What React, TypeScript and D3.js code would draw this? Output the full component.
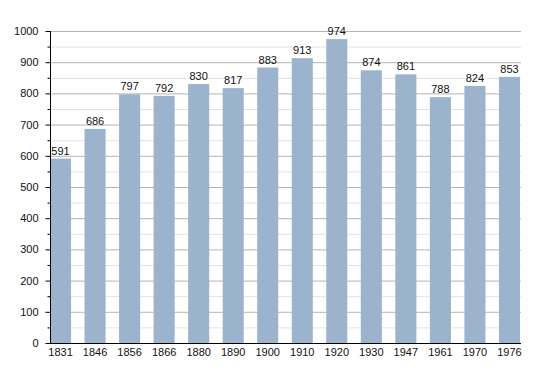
import { useEffect, useRef } from "react";
import * as d3 from "d3";

const years = ["1831", "1846", "1856", "1866", "1880", "1890", "1900", "1910", "1920", "1930", "1947", "1961", "1970", "1976"];
const population = [591, 686, 797, 792, 830, 817, 883, 913, 974, 874, 861, 788, 824, 853];
const majorTicks = [0, 100, 200, 300, 400, 500, 600, 700, 800, 900, 1000];
const minorTicks = [50, 150, 250, 350, 450, 550, 650, 750, 850, 950];

export default function App() {
    const svgRef = useRef<SVGSVGElement | null>(null);

    useEffect(() => {
        const width = 550;
        const height = 373;
        const left = 50;
        const right = 521;
        const top = 31;
        const bottom = 343;

        const svg = d3.select(svgRef.current)
            .attr("width", width)
            .attr("height", height);
        svg.selectAll("*").remove();

        const x = d3.scaleBand<string>()
            .domain(years)
            .range([left, 520])
            .paddingInner(0.39)
            .paddingOuter(0);

        const y = d3.scaleLinear()
            .domain([0, 1000])
            .range([bottom, top]);

        // minor grid lines
        svg.append("g")
            .selectAll("line")
            .data(minorTicks)
            .join("line")
            .attr("x1", left)
            .attr("x2", right)
            .attr("y1", d => y(d) + 0.5)
            .attr("y2", d => y(d) + 0.5)
            .attr("stroke", "#e2e2e2");

        // major grid lines
        svg.append("g")
            .selectAll("line")
            .data(majorTicks.filter(d => d > 0))
            .join("line")
            .attr("x1", left)
            .attr("x2", right)
            .attr("y1", d => y(d) + 0.5)
            .attr("y2", d => y(d) + 0.5)
            .attr("stroke", "#b4b4b4");

        // bars
        svg.append("g")
            .selectAll("rect")
            .data(population)
            .join("rect")
            .attr("x", (d, i) => x(years[i]) ?? 0)
            .attr("y", d => y(d))
            .attr("width", x.bandwidth())
            .attr("height", d => bottom - y(d))
            .attr("fill", "#9bb3cc");

        // value labels
        svg.append("g")
            .selectAll("text")
            .data(population)
            .join("text")
            .attr("x", (d, i) => (x(years[i]) ?? 0) + x.bandwidth() / 2)
            .attr("y", d => y(d) - 4)
            .attr("text-anchor", "middle")
            .attr("font-family", "Liberation Sans, Arial, sans-serif")
            .attr("font-size", 11)
            .attr("fill", "#111")
            .text(d => d);

        // y axis
        const yAxis = svg.append("g")
            .attr("transform", `translate(${left + 0.5},0)`);
        yAxis.append("line")
            .attr("y1", top)
            .attr("y2", bottom)
            .attr("stroke", "#000");
        yAxis.selectAll("line.major")
            .data(majorTicks)
            .join("line")
            .attr("class", "major")
            .attr("x1", -5)
            .attr("x2", 0)
            .attr("y1", d => y(d) + 0.5)
            .attr("y2", d => y(d) + 0.5)
            .attr("stroke", "#000");
        yAxis.selectAll("line.minor")
            .data(minorTicks)
            .join("line")
            .attr("class", "minor")
            .attr("x1", -3)
            .attr("x2", 0)
            .attr("y1", d => y(d) + 0.5)
            .attr("y2", d => y(d) + 0.5)
            .attr("stroke", "#000");
        yAxis.selectAll("text")
            .data(majorTicks)
            .join("text")
            .attr("x", -12)
            .attr("y", d => y(d) + 4)
            .attr("text-anchor", "end")
            .attr("font-family", "Liberation Sans, Arial, sans-serif")
            .attr("font-size", 11)
            .attr("fill", "#111")
            .text(d => d);

        // x axis
        svg.append("line")
            .attr("x1", left)
            .attr("x2", right)
            .attr("y1", bottom + 0.5)
            .attr("y2", bottom + 0.5)
            .attr("stroke", "#000");
        svg.append("g")
            .selectAll("text")
            .data(years)
            .join("text")
            .attr("x", d => (x(d) ?? 0) + x.bandwidth() / 2)
            .attr("y", bottom + 13)
            .attr("text-anchor", "middle")
            .attr("font-family", "Liberation Sans, Arial, sans-serif")
            .attr("font-size", 11)
            .attr("fill", "#111")
            .text(d => d);
    }, []);

    return (
        <svg ref={svgRef} style={{ position: "absolute", left: 0, top: 0, background: "#fff" }} />
    );
}
